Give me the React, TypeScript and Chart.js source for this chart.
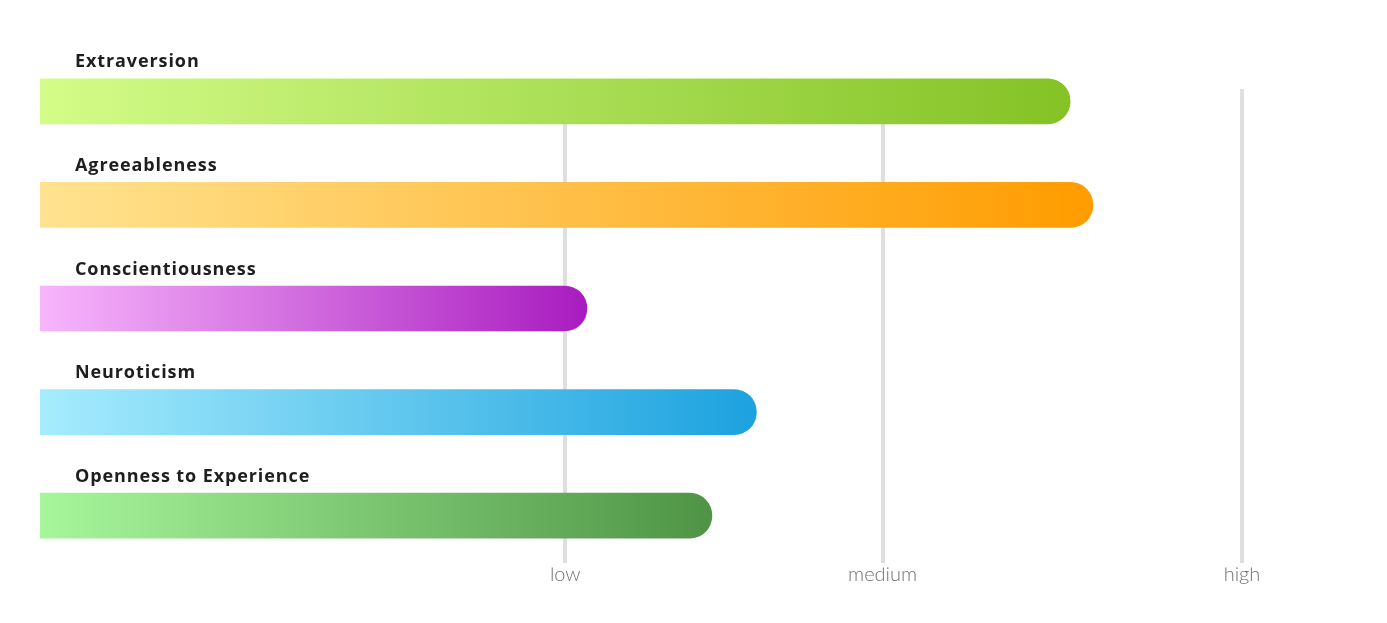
import React, { useEffect, useRef } from 'react';
import { Chart, registerables } from 'chart.js';

Chart.register(...registerables);

const traits = ['Extraversion', 'Agreeableness', 'Conscientiousness', 'Neuroticism', 'Openness to Experience'];
const scores = [85.7, 87.6, 45.5, 59.6, 55.9];
const levelValues = [43.7, 70.1, 100];
const levelLabels = ['low', 'medium', 'high'];
const startColors = ['#d3fc88', '#ffe390', '#f7b6fc', '#a6ecfd', '#a7f69b'];
const endColors = ['#84c225', '#ff9c00', '#a81cbf', '#1ca2df', '#4f9446'];

const GRID_TOP = 89;
const GRID_BOTTOM = 563;

const levelGridPlugin = {
  id: 'levelGrid',
  beforeDatasetsDraw(chart: any) {
    const { ctx, scales } = chart;
    const x = scales.x;
    ctx.save();
    ctx.strokeStyle = '#dfdfdf';
    ctx.lineWidth = 4;
    x.ticks.forEach((t: any) => {
      const px = Math.round(x.getPixelForValue(t.value));
      ctx.beginPath();
      ctx.moveTo(px, GRID_TOP);
      ctx.lineTo(px, GRID_BOTTOM);
      ctx.stroke();
    });
    ctx.restore();
  },
};

const traitLabelPlugin = {
  id: 'traitLabels',
  afterDatasetsDraw(chart: any) {
    const { ctx, scales } = chart;
    const y = scales.y;
    ctx.save();
    ctx.font = 'bold 18px "Open Sans"';
    (ctx as any).letterSpacing = '0.9px';
    ctx.fillStyle = '#1e1e1e';
    ctx.textAlign = 'left';
    ctx.textBaseline = 'alphabetic';
    traits.forEach((label, i) => {
      const py = y.getPixelForTick(i);
      ctx.fillText(label, 75, py - 34);
    });
    ctx.restore();
  },
};

export default function App() {
  const canvasRef = useRef<HTMLCanvasElement | null>(null);

  useEffect(() => {
    const canvas = canvasRef.current;
    if (!canvas) return;
    const chart = new Chart(canvas, {
      type: 'bar',
      data: {
        labels: traits,
        datasets: [
          {
            data: scores,
            barThickness: 45,
            borderRadius: 23,
            borderSkipped: 'start',
            backgroundColor: (c: any) => {
              const ch = c.chart;
              const i = c.dataIndex ?? 0;
              if (!ch.chartArea || c.type !== 'data') return startColors[i];
              const xs = ch.scales.x;
              const x0 = xs.getPixelForValue(0);
              const x1 = xs.getPixelForValue(scores[i]);
              const g = ch.ctx.createLinearGradient(x0, 0, x1, 0);
              g.addColorStop(0, startColors[i]);
              g.addColorStop(1, endColors[i]);
              return g;
            },
          },
        ],
      },
      options: {
        indexAxis: 'y',
        responsive: false,
        animation: false,
        layout: { padding: { left: 40, right: 145, top: 49.5, bottom: 0 } },
        plugins: { legend: { display: false }, tooltip: { enabled: false } },
        scales: {
          x: {
            type: 'linear',
            min: 0,
            max: 100,
            border: { display: false },
            grid: { display: false, drawTicks: false },
            afterBuildTicks: (scale: any) => {
              scale.ticks = levelValues.map((v) => ({ value: v }));
            },
            afterFit: (scale: any) => {
              scale.height = 55.5;
            },
            ticks: {
              padding: -5,
              color: '#707070',
              font: { family: 'Lato', size: 20, weight: '300' },
              callback: (_v: any, idx: number) => levelLabels[idx],
              autoSkip: false,
              maxRotation: 0,
            },
          },
          y: {
            display: false,
            offset: true,
          },
        },
      },
      plugins: [levelGridPlugin, traitLabelPlugin],
    });
    return () => chart.destroy();
  }, []);

  return (
    <canvas
      ref={canvasRef}
      width={1387}
      height={623}
      style={{ position: 'fixed', left: 0, top: 0, width: 1387, height: 623, display: 'block', background: '#fff' }}
    />
  );
}
